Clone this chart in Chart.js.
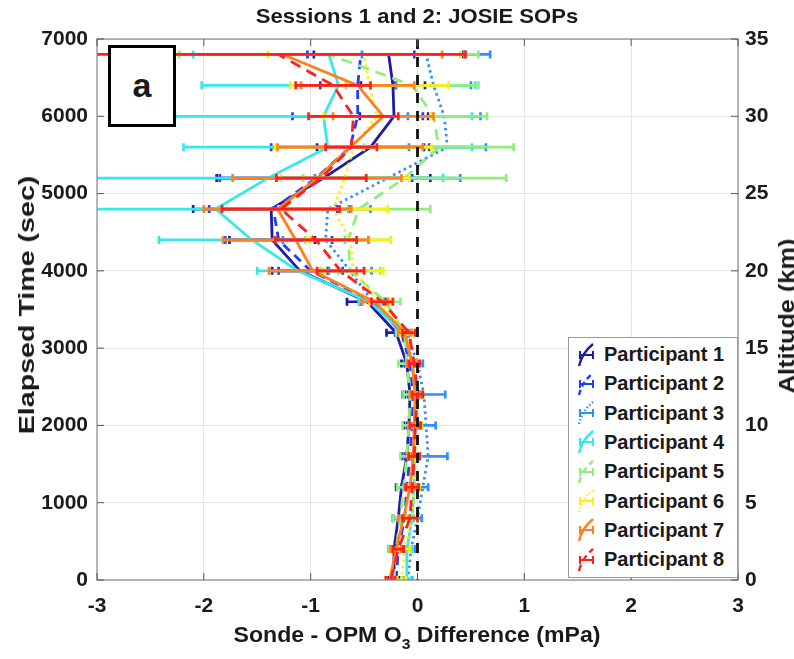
<!DOCTYPE html>
<html>
<head>
<meta charset="utf-8">
<script src="https://cdn.jsdelivr.net/npm/chart.js@4.4.1/dist/chart.umd.min.js"></script>
<style>
  html, body { margin: 0; padding: 0; background: #fff; }
  #wrap { position: relative; width: 794px; height: 659px; overflow: hidden; font-family: 'Liberation Sans', Arial, sans-serif; color: #1a1a1a; }
  #c { position: absolute; left: 0; top: 0; }
  .txt { position: absolute; font-weight: bold; white-space: nowrap; }
  #title { left: 0; width: 834px; top: 4px; text-align: center; font-size: 21px; transform: scaleX(1.05); }
  #xtitle { left: 0; width: 834px; top: 622px; text-align: center; font-size: 22px; transform: scaleX(1.05); }
  #xtitle sub { font-size: 15px; vertical-align: -7px; line-height: 0; }
  #ytitle { left: 27px; top: 305px; font-size: 22px; transform: translate(-50%, -50%) rotate(-90deg) scaleX(1.3); }
  #y2title { left: 787px; top: 316px; font-size: 22px; transform: translate(-50%, -50%) rotate(-90deg) scaleX(1.15); }
  #abox { position: absolute; left: 108px; top: 45px; width: 62px; height: 76px; border: 3px solid #000; background: #fff; font-size: 34px; font-weight: bold; text-align: center; line-height: 74px; }
  #legend { position: absolute; left: 568px; top: 337px; width: 168px; height: 239px; border: 1px solid #9a9a9a; background: #fff; }
  .li { position: absolute; left: 4px; height: 29px; display: flex; align-items: center; font-size: 20px; font-weight: bold; }
  .li svg { width: 28px; height: 28px; margin-right: 3px; }
</style>
</head>
<body>
<div id="wrap">
  <canvas id="c" width="794" height="659"></canvas>
  <div id="title" class="txt">Sessions 1 and 2: JOSIE SOPs</div>
  <div id="xtitle" class="txt">Sonde - OPM O<sub>3</sub> Difference (mPa)</div>
  <div id="ytitle" class="txt">Elapsed Time (sec)</div>
  <div id="y2title" class="txt">Altitude (km)</div>
  <div id="abox">a</div>
  <div id="legend"></div>
</div>
<script>
// ---- data ----
const elapsed = [0,400,800,1200,1600,2000,2400,2800,3200,3600,4000,4400,4800,5200,5600,6000,6400,6800];
const labels = ['Participant 1','Participant 2','Participant 3','Participant 4','Participant 5','Participant 6','Participant 7','Participant 8'];
const p1 = [-0.22,-0.22,-0.18,-0.15,-0.10,-0.08,-0.07,-0.10,-0.20,-0.47,-1.10,-1.36,-1.37,-0.88,-0.44,-0.22,-0.23,-0.27];
const p2 = [-0.20,-0.18,-0.12,-0.10,-0.07,-0.05,-0.04,-0.07,-0.15,-0.42,-1.00,-1.30,-1.35,-0.95,-0.63,-0.56,-0.56,-0.53];
const p3 = [-0.09,-0.06,0.00,0.05,0.10,0.08,0.06,0.00,-0.10,-0.42,-0.63,-0.86,-0.84,-0.28,0.28,0.25,0.15,0.08];
const p4 = [-0.10,-0.10,-0.05,-0.03,-0.03,-0.03,-0.02,-0.05,-0.13,-0.45,-1.12,-1.55,-1.89,-1.40,-0.84,-0.88,-0.74,-0.83];
const p5 = [-0.22,-0.20,-0.16,-0.13,-0.10,-0.08,-0.07,-0.10,-0.12,-0.30,-0.63,-0.65,-0.55,-0.12,0.20,0.15,-0.05,-0.83];
const p6 = [-0.15,-0.12,-0.05,-0.03,-0.02,-0.01,0.00,-0.05,-0.10,-0.35,-0.60,-0.63,-0.79,-0.68,-0.60,-0.38,-0.45,-0.50];
const p7 = [-0.26,-0.20,-0.13,-0.07,-0.04,-0.03,-0.02,-0.05,-0.12,-0.40,-0.98,-1.14,-1.31,-0.94,-0.63,-0.32,-0.56,-1.26];
const p8 = [-0.25,-0.18,-0.07,-0.05,-0.03,-0.02,0.00,-0.03,-0.08,-0.33,-0.72,-0.95,-1.28,-0.90,-0.62,-0.60,-0.79,-1.30];
// error half-widths (mPa)
const e1 = [0.05,0.05,0.05,0.05,0.05,0.05,0.05,0.05,0.09,0.19,0.26,0.40,0.73,1.00,0.50,0.32,0.30,0.70];
const e2 = [0.05,0.05,0.05,0.05,0.05,0.05,0.05,0.05,0.06,0.12,0.30,0.50,0.60,0.90,0.74,0.61,0.35,0.50];
const e3 = [0.04,0.04,0.04,0.05,0.18,0.09,0.20,0.05,0.05,0.10,0.20,0.40,0.40,0.68,0.36,0.34,0.35,0.60];
const e4 = [0.04,0.05,0.05,0.05,0.05,0.05,0.05,0.05,0.06,0.10,0.38,0.87,1.24,1.64,1.35,1.39,1.28,1.27];
const e5 = [0.07,0.07,0.07,0.06,0.06,0.06,0.06,0.08,0.08,0.14,0.28,0.40,0.67,0.95,0.70,0.50,0.62,1.40];
const e6 = [0.04,0.05,0.05,0.05,0.05,0.05,0.05,0.05,0.05,0.10,0.28,0.38,0.51,0.60,0.73,0.50,0.74,0.90];
const e7 = [0.04,0.05,0.05,0.05,0.05,0.05,0.05,0.05,0.06,0.12,0.41,0.68,0.69,0.79,0.68,0.47,0.53,1.49];
const e8 = [0.04,0.05,0.07,0.06,0.05,0.05,0.05,0.05,0.06,0.10,0.22,0.38,0.55,0.42,0.24,0.42,0.35,1.75];
const xTicks = [-3,-2,-1,0,1,2,3];
const yTicks = [0,1000,2000,3000,4000,5000,6000,7000];
const altTicks = [0,5,10,15,20,25,30,35];

// ---- styles ----
const series = [p1,p2,p3,p4,p5,p6,p7,p8];
const errors = [e1,e2,e3,e4,e5,e6,e7,e8];
const colors = ['#1c1ca8','#1f3dff','#2f8ffc','#36e8e8','#8ef07a','#ffee10','#ff8020','#ff1f1f'];
const dashes = [[],[9,6],[2.5,3.5],[],[11,7],[2.5,3.5],[],[11,7]];

const datasets = series.map((s, k) => ({
  label: labels[k],
  data: s.map((v, i) => ({ x: v, y: elapsed[i] })),
  borderColor: colors[k],
  backgroundColor: colors[k],
  borderWidth: 2.8,
  borderDash: dashes[k],
  pointRadius: 0,
  tension: 0,
  fill: false,
  order: 8 - k,
  errs: errors[k]
}));

const FONT = { family: "'Liberation Sans', Arial, sans-serif", size: 21, weight: 'bold' };
const plain = v => String(v);

const errPlugin = {
  id: 'errbars',
  beforeDatasetDraw(chart, args) {
    const ds = chart.data.datasets[args.index];
    const xs = chart.scales.x, ys = chart.scales.y, a = chart.chartArea;
    const ctx = chart.ctx;
    ctx.save();
    ctx.beginPath(); ctx.rect(a.left, a.top, a.right - a.left, a.bottom - a.top); ctx.clip();
    ctx.strokeStyle = ds.borderColor; ctx.lineWidth = 2.7; ctx.setLineDash([]);
    ds.data.forEach((p, i) => {
      const e = ds.errs[i];
      const y = ys.getPixelForValue(p.y);
      const x1 = xs.getPixelForValue(p.x - e), x2 = xs.getPixelForValue(p.x + e);
      ctx.beginPath();
      ctx.moveTo(x1, y); ctx.lineTo(x2, y);
      ctx.moveTo(x1, y - 4); ctx.lineTo(x1, y + 4);
      ctx.moveTo(x2, y - 4); ctx.lineTo(x2, y + 4);
      ctx.stroke();
    });
    ctx.restore();
  }
};

const framePlugin = {
  id: 'frame',
  afterDatasetsDraw(chart) {
    const ctx = chart.ctx, a = chart.chartArea, xs = chart.scales.x, ys = chart.scales.y, y2 = chart.scales.y2;
    ctx.save();
    const x0 = xs.getPixelForValue(0);
    ctx.strokeStyle = '#111'; ctx.lineWidth = 2.8; ctx.setLineDash([10, 8]);
    ctx.beginPath(); ctx.moveTo(x0, a.top); ctx.lineTo(x0, a.bottom); ctx.stroke();
    ctx.setLineDash([]);
    ctx.strokeStyle = '#8a8a8a'; ctx.lineWidth = 1.2;
    ctx.strokeRect(a.left, a.top, a.right - a.left, a.bottom - a.top);
    ctx.strokeStyle = '#555'; ctx.lineWidth = 1;
    ctx.beginPath();
    xTicks.forEach(t => { const x = xs.getPixelForValue(t); ctx.moveTo(x, a.bottom); ctx.lineTo(x, a.bottom - 7); ctx.moveTo(x, a.top); ctx.lineTo(x, a.top + 7); });
    yTicks.forEach(t => { const y = ys.getPixelForValue(t); ctx.moveTo(a.left, y); ctx.lineTo(a.left + 7, y); });
    altTicks.forEach(t => { const y = y2.getPixelForValue(t); ctx.moveTo(a.right, y); ctx.lineTo(a.right - 7, y); });
    ctx.stroke();
    ctx.restore();
  }
};

new Chart(document.getElementById('c'), {
  type: 'line',
  data: { datasets },
  options: {
    responsive: false,
    animation: false,
    layout: { padding: { top: 39, left: 0, right: 0, bottom: 0 } },
    plugins: { legend: { display: false }, title: { display: false }, tooltip: { enabled: false } },
    scales: {
      x: {
        type: 'linear', min: -3, max: 3,
        afterBuildTicks: s => { s.ticks = xTicks.map(v => ({ value: v })); },
        ticks: { font: FONT, color: '#1a1a1a', padding: 14, maxRotation: 0, callback: plain },
        grid: { color: '#e6e6e6', drawTicks: false, lineWidth: 1 },
        border: { display: false },
        afterFit: s => { s.height = 79; }
      },
      y: {
        type: 'linear', position: 'left', min: 0, max: 7000,
        afterBuildTicks: s => { s.ticks = yTicks.map(v => ({ value: v })); },
        ticks: { font: FONT, color: '#1a1a1a', padding: 9, callback: plain },
        grid: { color: '#e6e6e6', drawTicks: false, lineWidth: 1 },
        border: { display: false },
        afterFit: s => { s.width = 97; }
      },
      y2: {
        type: 'linear', position: 'right', min: 0, max: 35,
        afterBuildTicks: s => { s.ticks = altTicks.map(v => ({ value: v })); },
        ticks: { font: FONT, color: '#1a1a1a', padding: 7, callback: plain },
        grid: { drawOnChartArea: false, drawTicks: false },
        border: { display: false },
        afterFit: s => { s.width = 56; }
      }
    }
  },
  plugins: [errPlugin, framePlugin]
});

// ---- legend (HTML) ----
const leg = document.getElementById('legend');
labels.forEach((lab, k) => {
  const d = document.createElement('div');
  d.className = 'li';
  d.style.top = (2 + k * 29.3) + 'px';
  const dash = dashes[k].length ? `stroke-dasharray="${dashes[k].map(v => v * 0.6).join(',')}"` : '';
  d.innerHTML = `<svg viewBox="0 0 28 28"><path d="M6 25 Q9 12 20 3" fill="none" stroke="${colors[k]}" stroke-width="2.4" ${dash}/>` +
    `<path d="M7 14 H20 M7 10 V18 M20 10 V18" fill="none" stroke="${colors[k]}" stroke-width="2"/></svg><span>${lab}</span>`;
  leg.appendChild(d);
});
</script>
</body>
</html>
